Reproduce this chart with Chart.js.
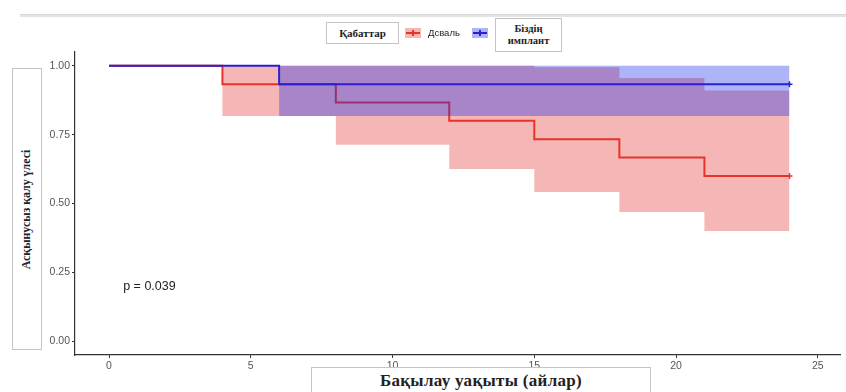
<!DOCTYPE html>
<html>
<head>
<meta charset="utf-8">
<script src="https://cdn.jsdelivr.net/npm/chart.js@4.4.1/dist/chart.umd.min.js"></script>
<style>
  body { margin: 0; background: #fff; overflow: hidden; }
  #wrap { position: relative; width: 846px; height: 392px; }
  #topline { position: absolute; left: 20px; right: 0; top: 14px; height: 2px; background: #e4e4e4; border-top: 1px solid #d6d6d6; }
  .box { position: absolute; border: 1px solid #c4c4c4; background: #fff; box-sizing: border-box;
         font-family: "Liberation Serif", "DejaVu Serif", serif; font-weight: bold; color: #222;
         display: flex; align-items: center; justify-content: center; text-align: center; }
  .key { position: absolute; width: 16px; height: 10px; }
  .key .h { position: absolute; left: 1px; right: 1px; top: 4px; height: 2px; }
  .key .v { position: absolute; left: 7px; top: 2px; width: 1.5px; height: 6px; }
</style>
</head>
<body>
<div id="wrap">
  <canvas id="kmChart" width="846" height="392"></canvas>
  <div id="topline"></div>
  <div class="box" style="left:12px;top:68px;width:30px;height:282px;">
    <span style="transform:rotate(-90deg) scaleX(0.95);white-space:nowrap;font-size:12.5px;">Асқынусыз қалу үлесі</span>
  </div>
  <div class="box" style="left:311px;top:367px;width:340px;height:40px;align-items:flex-start;padding-top:3px;font-size:17px;letter-spacing:0.3px;">Бақылау уақыты (айлар)</div>
  <div class="box" style="left:326px;top:22px;width:73px;height:22px;font-size:11px;">Қабаттар</div>
  <div class="key" style="left:405px;top:28px;background:rgba(221,30,24,0.32);"><div class="h" style="background:#e8332a"></div><div class="v" style="background:#e8332a"></div></div>
  <div style="position:absolute;left:428px;top:27px;font-family:'Liberation Sans',Arial,sans-serif;font-size:9.5px;color:#222;">Дсваль</div>
  <div class="key" style="left:472px;top:28px;background:rgba(20,37,235,0.345);"><div class="h" style="background:#2b20cf"></div><div class="v" style="background:#2b20cf"></div></div>
  <div class="box" style="left:495px;top:18px;width:67px;height:34px;font-size:10.5px;line-height:12px;">Біздің<br>имплант</div>
</div>
<script>
// Kaplan-Meier estimates
const dsvalTimes = [0, 4, 8, 12, 15, 18, 21, 24];
const dsvalSurv  = [1, 0.933, 0.867, 0.8, 0.733, 0.667, 0.6, 0.6];
const dsvalUpper = [1, 1, 1, 1, 0.995, 0.956, 0.91, 0.91];
const dsvalLower = [1, 0.818, 0.713, 0.625, 0.542, 0.469, 0.40, 0.40];

const implantTimes = [0, 6, 24];
const implantSurv  = [1, 0.933, 0.933];
const implantUpper = [1, 1, 1];
const implantLower = [1, 0.818, 0.818];

const xTicks = [0, 5, 10, 15, 20, 25];
const yTicks = [0, 0.25, 0.5, 0.75, 1];
const pText = 'p = 0.039';
const pPos = [0.5, 0.2];

const redLine = '#e8332a';
const redFill = 'rgba(221,30,24,0.32)';
const blueLine = '#2b20cf';
const blueFill = 'rgba(20,37,235,0.345)';

function pts(times, vals) {
    return times.map((t, i) => ({ x: t, y: vals[i] }));
}
function censorRadius(times) {
    return times.map((t, i) => i === times.length - 1 ? 3 : 0);
}

const pvalPlugin = {
    id: 'pval',
    afterDatasetsDraw(chart) {
        const ctx = chart.ctx;
        ctx.save();
        ctx.font = '12.5px "Liberation Sans", Arial, sans-serif';
        ctx.fillStyle = '#222';
        ctx.textAlign = 'left';
        ctx.textBaseline = 'middle';
        ctx.fillText(pText, chart.scales.x.getPixelForValue(pPos[0]), chart.scales.y.getPixelForValue(pPos[1]));
        ctx.restore();
    }
};

const band = { borderWidth: 0, borderColor: 'transparent', pointRadius: 0, stepped: true };

const ctx = document.getElementById('kmChart').getContext('2d');
new Chart(ctx, {
    type: 'line',
    data: {
        datasets: [
            { ...band, data: pts(dsvalTimes, dsvalUpper), fill: false, order: 6 },
            { ...band, data: pts(dsvalTimes, dsvalLower), fill: '-1', backgroundColor: redFill, order: 5 },
            { label: 'Дсваль', data: pts(dsvalTimes, dsvalSurv), stepped: true, fill: false,
              borderColor: redLine, borderWidth: 2, pointStyle: 'cross', pointRadius: censorRadius(dsvalTimes),
              pointBorderColor: redLine, pointBorderWidth: 1.5, order: 4 },
            { ...band, data: pts(implantTimes, implantUpper), fill: false, order: 3 },
            { ...band, data: pts(implantTimes, implantLower), fill: '-1', backgroundColor: blueFill, order: 2 },
            { label: 'Біздің имплант', data: pts(implantTimes, implantSurv), stepped: true, fill: false,
              borderColor: blueLine, borderWidth: 2, pointStyle: 'cross', pointRadius: censorRadius(implantTimes),
              pointBorderColor: blueLine, pointBorderWidth: 1.5, order: 1 }
        ]
    },
    options: {
        responsive: false,
        animation: false,
        layout: { padding: { top: 52, left: 0, right: 0, bottom: 0 } },
        plugins: { legend: { display: false }, tooltip: { enabled: false } },
        scales: {
            x: {
                type: 'linear', min: -1.2, max: 25.8,
                afterBuildTicks: s => { s.ticks = xTicks.map(v => ({ value: v })); },
                afterFit: s => { s.height = 37; },
                grid: { drawOnChartArea: false, drawTicks: true, tickLength: 3, color: '#333' },
                border: { display: true, color: '#333', width: 1.2 },
                ticks: { color: '#555', padding: 2, maxRotation: 0, font: { family: '"Liberation Sans", Arial, sans-serif', size: 10.5 } }
            },
            y: {
                type: 'linear', min: -0.05, max: 1.05,
                afterBuildTicks: s => { s.ticks = yTicks.map(v => ({ value: v })); },
                afterFit: s => { s.width = 75; },
                grid: { drawOnChartArea: false, drawTicks: true, tickLength: 3, color: '#333' },
                border: { display: true, color: '#333', width: 1.2 },
                ticks: { color: '#555', padding: 2, callback: v => v.toFixed(2), font: { family: '"Liberation Sans", Arial, sans-serif', size: 10.5 } }
            }
        }
    },
    plugins: [pvalPlugin]
});
</script>
</body>
</html>
